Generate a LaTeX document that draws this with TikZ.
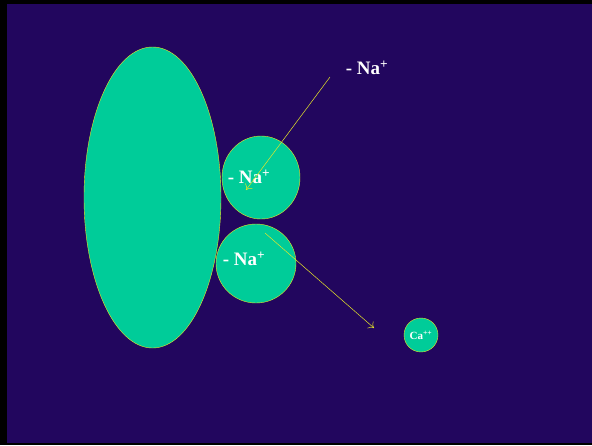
\documentclass[tikz,border=0pt]{standalone}
\usepackage{fontspec}
\setmainfont{Liberation Serif}
\usetikzlibrary{shapes.geometric,arrows.meta}
\definecolor{slide}{RGB}{34,6,94}
\definecolor{cell}{RGB}{0,204,153}
\definecolor{rim}{RGB}{230,230,40}
\tikzset{
  blob/.style={ellipse,draw=rim,fill=cell,thin,inner sep=0pt},
  ion/.style={text=white,font=\bfseries\fontsize{19}{21}\selectfont},
  path/.style={rim,line width=0.5pt,-{To[length=5pt,width=9pt]}}
}
\begin{document}
\begin{tikzpicture}[x=1pt,y=-1pt]
    \useasboundingbox (0,0) rectangle (592,445);
    \fill[black] (0,0) rectangle (592,445);
    \fill[slide] (7,4) rectangle (592,443);
    % cells
    \node[blob,minimum width=137,minimum height=301] (wall) at (152.5,197.5) {};
    \node[blob,minimum width=78,minimum height=83] (up) at (261,177.5) {};
    \node[blob,minimum width=80,minimum height=79] (low) at (256,263.5) {};
    \node[blob,minimum width=34,minimum height=34] (ca) at (421,335) {};
    % ions
    \node[ion] (na1) at (367,68) {- Na\textsuperscript{+}};
    \node[ion] (na2) at (249,177) {- Na\textsuperscript{+}};
    \node[ion] (na3) at (244,259) {- Na\textsuperscript{+}};
    \node[text=white,font=\bfseries\fontsize{11}{12}\selectfont] (cat) at (421,335) {Ca\textsuperscript{++}};
    % moves
    \coordinate (a1) at (330,77);
    \coordinate (b1) at (246,190);
    \coordinate (a2) at (265,233);
    \coordinate (b2) at (374,328);
    \draw[path] (a1) -- (b1);
    \draw[path] (a2) -- (b2);
\end{tikzpicture}
\end{document}
